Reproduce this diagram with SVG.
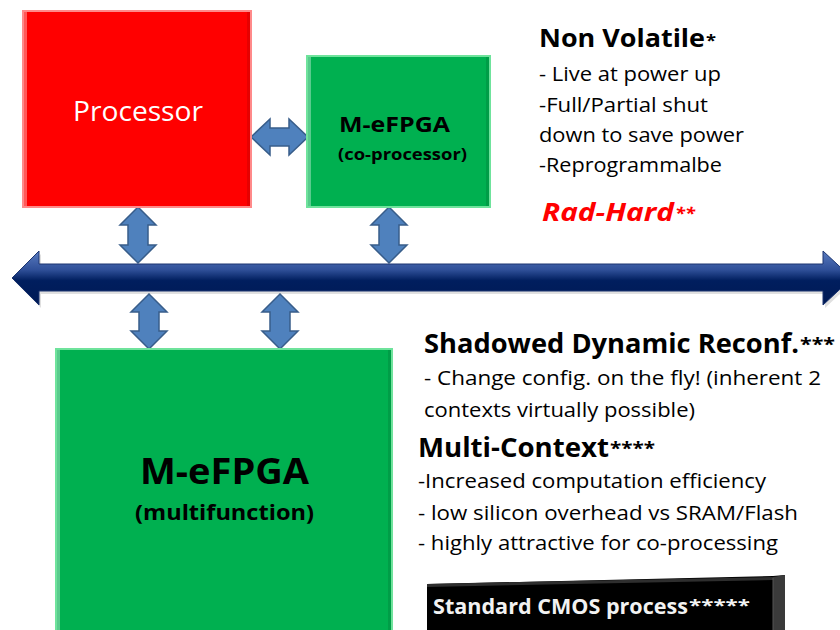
<svg xmlns="http://www.w3.org/2000/svg" width="840" height="630" viewBox="0 0 840 630">
<defs>
<linearGradient id="busG" x1="0" y1="0" x2="0" y2="1">
<stop offset="0" stop-color="#5a7cc0"/>
<stop offset="0.35" stop-color="#2f4f98"/>
<stop offset="0.55" stop-color="#001e5e"/>
<stop offset="1" stop-color="#001a55"/>
</linearGradient>
</defs>
<style>
.t{font-family:"Open Sans","Noto Sans","Liberation Sans",sans-serif;fill:#000}
.b{font-weight:bold}
.red{fill:#ff0000}
.grn{fill:#00b050}
.arr{fill:#4f81bd;stroke:#385d8a;stroke-width:1.5}
.bevL{fill:#ffffff;opacity:0.35}
</style>
<rect width="840" height="630" fill="#fff"/>

<g id="connectors">
<path class="arr" d="M251,137 L270,119 L270,128 L289,128 L289,119 L308,137 L289,155 L289,146 L270,146 L270,155 Z"/>
<path class="arr" d="M138,207 L156,225 L148,225 L148,245 L156,245 L138,263 L120,245 L128,245 L128,225 L120,225 Z"/>
<path class="arr" d="M389,207 L407,225 L399,225 L399,245 L407,245 L389,263 L371,245 L379,245 L379,225 L371,225 Z"/>
<path class="arr" d="M149,294 L167,312 L159,312 L159,331 L167,331 L149,349 L131,331 L139,331 L139,312 L131,312 Z"/>
<path class="arr" d="M280,294 L298,312 L290,312 L290,331 L298,331 L280,349 L262,331 L270,331 L270,312 L262,312 Z"/>
<g id="bus">
<path d="M12,278 L39,251 L39,264 L823,264 L823,251 L852,278 L823,305 L823,291 L39,291 L39,305 Z" fill="#000" opacity="0.12" transform="translate(2,3)"/>
<path d="M12,278 L39,251 L39,264 L823,264 L823,251 L852,278 L823,305 L823,291 L39,291 L39,305 Z" fill="url(#busG)" stroke="#1c3570" stroke-width="1"/>
</g>
</g>

<g id="processor">
<rect x="23" y="11" width="228" height="196" class="red"/>
<rect x="23" y="11" width="228" height="196" fill="none" stroke="#ff8a8a" stroke-width="2"/>
<rect x="24" y="12" width="3" height="194" class="bevL"/>
<rect x="247" y="12" width="3" height="194" fill="#c00000" opacity="0.4"/>
<text class="t" x="73" y="121" font-size="28" style="fill:#fff" textLength="130" lengthAdjust="spacingAndGlyphs">Processor</text>
</g>

<g id="coproc">
<rect x="307" y="56" width="183" height="151" class="grn"/>
<rect x="307" y="56" width="183" height="151" fill="none" stroke="#6fe39c" stroke-width="2"/>
<rect x="308" y="57" width="3" height="149" class="bevL"/>
<rect x="486" y="57" width="3" height="149" fill="#008a3e" opacity="0.5"/>
<text class="t b" x="339" y="132" font-size="22" textLength="111" lengthAdjust="spacingAndGlyphs">M-eFPGA</text>
<text class="t b" x="338" y="160" font-size="16" textLength="129" lengthAdjust="spacingAndGlyphs">(co-processor)</text>
</g>

<g id="mefpga">
<rect x="56" y="349" width="336" height="290" class="grn"/>
<rect x="56" y="349" width="336" height="290" fill="none" stroke="#6fe39c" stroke-width="2"/>
<rect x="57" y="350" width="3" height="290" class="bevL"/>
<rect x="388" y="350" width="3" height="290" fill="#008a3e" opacity="0.5"/>
<text class="t b" x="140" y="484" font-size="36" textLength="169" lengthAdjust="spacingAndGlyphs">M-eFPGA</text>
<text class="t b" x="135" y="520" font-size="22" textLength="179" lengthAdjust="spacingAndGlyphs">(multifunction)</text>
</g>

<g id="nonvolatile">
<text class="t b" x="539" y="47" font-size="25" textLength="166" lengthAdjust="spacingAndGlyphs">Non Volatile</text>
<text class="t b" x="706" y="46" font-size="16" textLength="10" lengthAdjust="spacingAndGlyphs">*</text>
<text class="t" x="539" y="81" font-size="20" textLength="182" lengthAdjust="spacingAndGlyphs">- Live at power up</text>
<text class="t" x="539" y="112" font-size="20" textLength="169" lengthAdjust="spacingAndGlyphs">-Full/Partial shut</text>
<text class="t" x="539" y="142" font-size="20" textLength="205" lengthAdjust="spacingAndGlyphs">down to save power</text>
<text class="t" x="539" y="172" font-size="20" textLength="183" lengthAdjust="spacingAndGlyphs">-Reprogrammalbe</text>
<text class="t b red" x="542" y="221" font-size="25" font-style="italic" textLength="132" lengthAdjust="spacingAndGlyphs">Rad-Hard</text>
<text class="t b red" x="675" y="219" font-size="16" font-style="italic" textLength="20" lengthAdjust="spacingAndGlyphs">**</text>
</g>

<g id="shadowed">
<text class="t b" x="424" y="353" font-size="26" textLength="375" lengthAdjust="spacingAndGlyphs">Shadowed Dynamic Reconf.</text>
<text class="t b" x="800" y="351" font-size="17" textLength="35" lengthAdjust="spacingAndGlyphs">***</text>
<text class="t" x="424" y="385" font-size="20" textLength="397" lengthAdjust="spacingAndGlyphs">- Change config. on the fly! (inherent 2</text>
<text class="t" x="424" y="417" font-size="20" textLength="271" lengthAdjust="spacingAndGlyphs">contexts virtually possible)</text>
</g>

<g id="multicontext">
<text class="t b" x="418" y="457" font-size="26" textLength="191" lengthAdjust="spacingAndGlyphs">Multi-Context</text>
<text class="t b" x="610" y="455" font-size="17" textLength="45" lengthAdjust="spacingAndGlyphs">****</text>
<text class="t" x="418" y="488" font-size="20" textLength="348" lengthAdjust="spacingAndGlyphs">-Increased computation efficiency</text>
<text class="t" x="418" y="520" font-size="20" textLength="380" lengthAdjust="spacingAndGlyphs">- low silicon overhead vs SRAM/Flash</text>
<text class="t" x="418" y="550" font-size="20" textLength="360" lengthAdjust="spacingAndGlyphs">- highly attractive for co-processing</text>
</g>

<g id="cmos">
<polygon points="427,584 773,576 785,575 785,630 773,630 427,630" fill="#000"/>
<polygon points="773,577 785,575 785,630 773,630" fill="#3a3a3a"/>
<polygon points="427,584 773,577 773,580 427,587" fill="#2e2e2e"/>
<line x1="773" y1="578" x2="773" y2="630" stroke="#555" stroke-width="1"/>
<text class="t b" x="433" y="614" font-size="22" style="fill:#f2f2f2" textLength="255" lengthAdjust="spacingAndGlyphs">Standard CMOS process</text>
<text class="t b" x="689" y="611" font-size="16" style="fill:#f2f2f2" textLength="61" lengthAdjust="spacingAndGlyphs">*****</text>
</g>
</svg>
